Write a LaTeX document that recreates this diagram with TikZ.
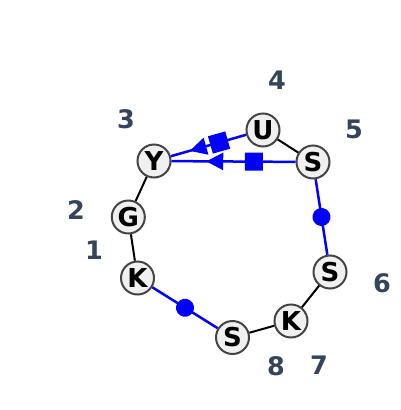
\documentclass[tikz,border=0pt]{standalone}
\usepackage{fontspec}
\setmainfont{DejaVu Sans}
\usetikzlibrary{arrows.meta,decorations.markings}
\definecolor{nodefill}{HTML}{F0F0F0}
\definecolor{nodeline}{HTML}{444444}
\definecolor{labcol}{HTML}{34445A}
\definecolor{pureblue}{RGB}{0,0,255}
\tikzset{
  res/.style={circle, draw=nodeline, fill=nodefill, line width=2pt, minimum size=33pt, inner sep=0pt, font=\fontsize{26}{26}\selectfont\bfseries},
  lab/.style={text=labcol, font=\fontsize{25.5}{25.5}\selectfont\bfseries, inner sep=0pt},
  bb/.style={draw=black, line width=2pt},
  bl/.style={draw=pureblue, line width=2.5pt},
  dotmid/.style={bl, postaction={decorate}, decoration={markings, mark=at position 0.5 with {\fill[pureblue] (0,0) circle (9pt);}}},
  sqtri/.style n args={2}{bl, postaction={decorate}, decoration={markings,
     mark=at position #1 with {\node[fill=pureblue, minimum size=18pt, inner sep=0pt, transform shape]{};},
     mark=at position #2 with {\arrow{Triangle[length=17pt,width=17pt,fill=pureblue]}}}},
}
\begin{document}
\begin{tikzpicture}[x=1pt,y=-1pt]
\useasboundingbox (0,0) rectangle (400,410);
\node[res] (K1) at (137.5,278) {K};
\node[res] (G2) at (128.3,217) {G};
\node[res] (Y3) at (154,161) {Y};
\node[res] (U4) at (263,130) {U};
\node[res] (S5) at (313,162) {S};
\node[res] (S6) at (330,272) {S};
\node[res] (K7) at (291,321) {K};
\node[res] (S8) at (232.5,337.5) {S};
\draw[bb] (K1) -- (G2);
\draw[bb] (G2) -- (Y3);
\draw[bb] (U4) -- (S5);
\draw[bb] (S6) -- (K7);
\draw[bb] (K7) -- (S8);
\draw[dotmid] (S8) -- (K1);
\draw[dotmid] (S5) -- (S6);
\draw[sqtri={0.36}{0.75}] (U4) -- (Y3);
\draw[sqtri={0.336}{0.72}] (S5) -- (Y3);
\node[lab] (n1) at (94,250) {1};
\node[lab] (n2) at (76,210) {2};
\node[lab] (n3) at (126,119) {3};
\node[lab] (n4) at (277,80) {4};
\node[lab] (n5) at (354,129) {5};
\node[lab] (n6) at (382,283) {6};
\node[lab] (n7) at (319,365) {7};
\node[lab] (n8) at (276,366) {8};
\end{tikzpicture}
\end{document}
